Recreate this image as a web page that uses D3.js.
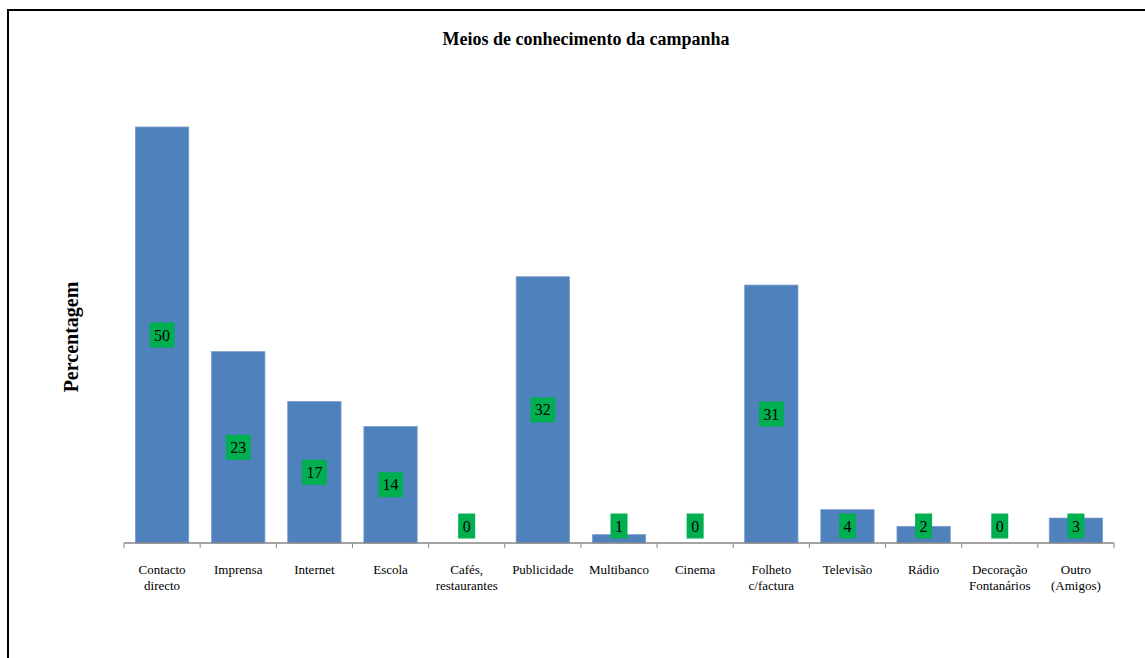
<!DOCTYPE html>
<html>
<head>
<meta charset="utf-8">
<script src="https://cdn.jsdelivr.net/npm/d3@7"></script>
<style>
  body { margin: 0; background: #fff; }
  svg { display: block; font-family: "Liberation Serif", "Times New Roman", serif; }
</style>
</head>
<body>
<svg id="chart" width="1145" height="658"></svg>
<script>
// categories (line breaks as in the original axis labels)
const categories = ['Contacto\ndirecto', 'Imprensa', 'Internet', 'Escola', 'Cafés,\nrestaurantes',
  'Publicidade', 'Multibanco', 'Cinema', 'Folheto\nc/factura', 'Televisão', 'Rádio',
  'Decoração\nFontanários', 'Outro\n(Amigos)'];
// percentages
const values = [50, 23, 17, 14, 0, 32, 1, 0, 31, 4, 2, 0, 3];

const chartTitle = 'Meios de conhecimento da campanha';
const yTitle = 'Percentagem';

const svg = d3.select('#chart');

// outer frame of the chart area, runs off the right and bottom of the picture
svg.append('rect')
  .attr('x', 8).attr('y', 10)
  .attr('width', 1200).attr('height', 700)
  .attr('fill', 'none')
  .attr('stroke', '#000')
  .attr('stroke-width', 2);

const plot = { left: 124, right: 1114, bottom: 543, top: 127 };

// band scale for categories
const x = d3.scaleBand()
  .domain(d3.range(categories.length))
  .range([plot.left, plot.right])
  .paddingInner(0.3)
  .paddingOuter(0.15);

// band scale without padding for tick positions
const xTicks = d3.scaleBand()
  .domain(d3.range(categories.length))
  .range([plot.left, plot.right]);

// y scale: 50% reaches the top of the tallest bar
const y = d3.scaleLinear()
  .domain([0, 50])
  .range([plot.bottom, plot.top]);

// bars
svg.append('g')
  .selectAll('rect')
  .data(values)
  .join('rect')
    .attr('x', (d, i) => x(i))
    .attr('y', d => y(d))
    .attr('width', x.bandwidth())
    .attr('height', d => y(0) - y(d))
    .attr('fill', '#4F81BD')
    .attr('stroke', '#7A9CCB')
    .attr('stroke-width', 0.8);

// x axis line with tick marks at the category boundaries
const axisG = svg.append('g');
axisG.append('line')
  .attr('x1', plot.left).attr('x2', plot.right)
  .attr('y1', y(0)).attr('y2', y(0))
  .attr('stroke', '#868686')
  .attr('stroke-width', 1.3);
axisG.selectAll('line.tick')
  .data(d3.range(categories.length + 1))
  .join('line')
    .attr('class', 'tick')
    .attr('x1', i => i < categories.length ? xTicks(i) : plot.right)
    .attr('x2', i => i < categories.length ? xTicks(i) : plot.right)
    .attr('y1', y(0))
    .attr('y2', y(0) + 5)
    .attr('stroke', '#868686')
    .attr('stroke-width', 1);

// category labels (may be two lines)
const catG = svg.append('g')
  .selectAll('text')
  .data(categories)
  .join('text')
    .attr('x', (d, i) => xTicks(i) + xTicks.bandwidth() / 2)
    .attr('y', y(0) + 31)
    .attr('text-anchor', 'middle')
    .attr('font-size', 13)
    .attr('fill', '#000');
catG.each(function(d) {
  const t = d3.select(this);
  const cx = t.attr('x');
  d.split('\n').forEach((line, k) => {
    t.append('tspan')
      .attr('x', cx)
      .attr('dy', k === 0 ? 0 : 16)
      .text(line);
  });
});

// data labels: green boxes, centred on the bar but kept above the axis
const labelG = svg.append('g')
  .selectAll('g')
  .data(values)
  .join('g')
    .attr('transform', (d, i) => {
      const cx = x(i) + x.bandwidth() / 2;
      const cy = Math.min((y(d) + y(0)) / 2, y(0) - 17);
      return `translate(${cx},${cy})`;
    });
labelG.append('rect')
  .attr('x', d => -(String(d).length * 8 + 9) / 2)
  .attr('y', -12.5)
  .attr('width', d => String(d).length * 8 + 9)
  .attr('height', 25)
  .attr('fill', '#00B050');
labelG.append('text')
  .attr('text-anchor', 'middle')
  .attr('y', 5.5)
  .attr('font-size', 16)
  .attr('fill', '#000')
  .text(d => d);

// title
svg.append('text')
  .attr('x', 586)
  .attr('y', 45)
  .attr('text-anchor', 'middle')
  .attr('font-size', 18)
  .attr('font-weight', 'bold')
  .text(chartTitle);

// y axis title
svg.append('text')
  .attr('transform', 'translate(78,337) rotate(-90)')
  .attr('text-anchor', 'middle')
  .attr('font-size', 20)
  .attr('font-weight', 'bold')
  .text(yTitle);
</script>
</body>
</html>
